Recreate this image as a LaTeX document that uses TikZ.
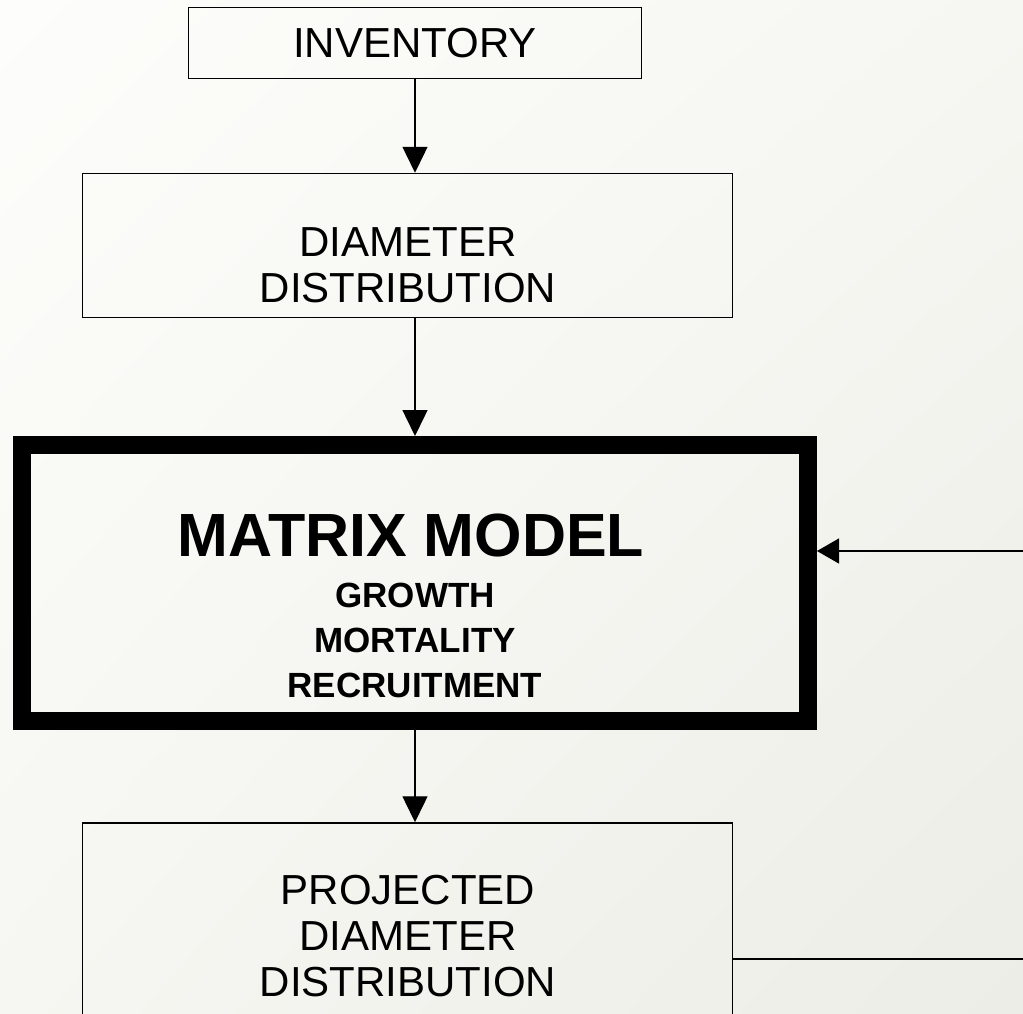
\documentclass[tikz,border=0pt]{standalone}
\usepackage{fontspec}
\setmainfont{Liberation Sans}
\usetikzlibrary{arrows.meta,shadings}
\definecolor{bgA}{RGB}{253,253,251}
\definecolor{bgB}{RGB}{246,246,242}
\definecolor{bgC}{RGB}{237,237,231}
\begin{document}
\begin{tikzpicture}[x=1pt,y=-1pt,
  box/.style={draw=black, line width=1.5pt, inner sep=0pt},
  thickbox/.style={draw=black, line width=18pt, inner sep=0pt},
  lbl/.style={align=center, inner sep=0pt, font=\fontsize{42}{46}\selectfont},
  sublbl/.style={align=center, inner sep=0pt, font=\bfseries\fontsize{35}{45}\selectfont},
  titlelbl/.style={inner sep=0pt, font=\bfseries\fontsize{61}{61}\selectfont},
  flow/.style={draw=black, line width=1.4pt, -{Triangle[length=26pt,width=25pt]}},
  plain/.style={draw=black, line width=1.4pt}
]
\clip (0,0) rectangle (1023,1013);
\shade[upper left=bgA, upper right=bgB, lower left=bgB, lower right=bgC] (0,0) rectangle (1023,1013);

\node[box, minimum width=453pt, minimum height=71pt, font=\fontsize{42}{46}\selectfont] (inv) at (415,43) {INVENTORY};

\node[box, minimum width=650pt, minimum height=144pt] (dd) at (407.5,245.5) {};
\node[lbl] (ddt) at (408,265) {DIAMETER\\DISTRIBUTION};

\node[thickbox, minimum width=786pt, minimum height=276pt] (mm) at (415,583) {};
\node[titlelbl] (mmt) at (411,535.5) {MATRIX MODEL};
\node[sublbl] (mms) at (415,640) {GROWTH\\MORTALITY\\RECRUITMENT};

\node[box, minimum width=650pt, minimum height=240pt] (pd) at (407.5,943) {};
\node[lbl] (pdt) at (408,936) {PROJECTED\\DIAMETER\\DISTRIBUTION};

\coordinate (rin) at (1023,551);
\coordinate (rout) at (1023,959);

\draw[flow] (inv.south) -- (inv.south |- dd.north);
\draw[flow] (dd.south -| inv.south) -- (mm.north -| inv.south);
\draw[flow] (mm.south) -- (mm.south |- pd.north);
\draw[plain, -{Triangle[length=22pt,width=25pt]}] (rin) -- (rin -| mm.east);
\draw[plain] (rout -| pd.east) -- (rout);
\end{tikzpicture}
\end{document}
